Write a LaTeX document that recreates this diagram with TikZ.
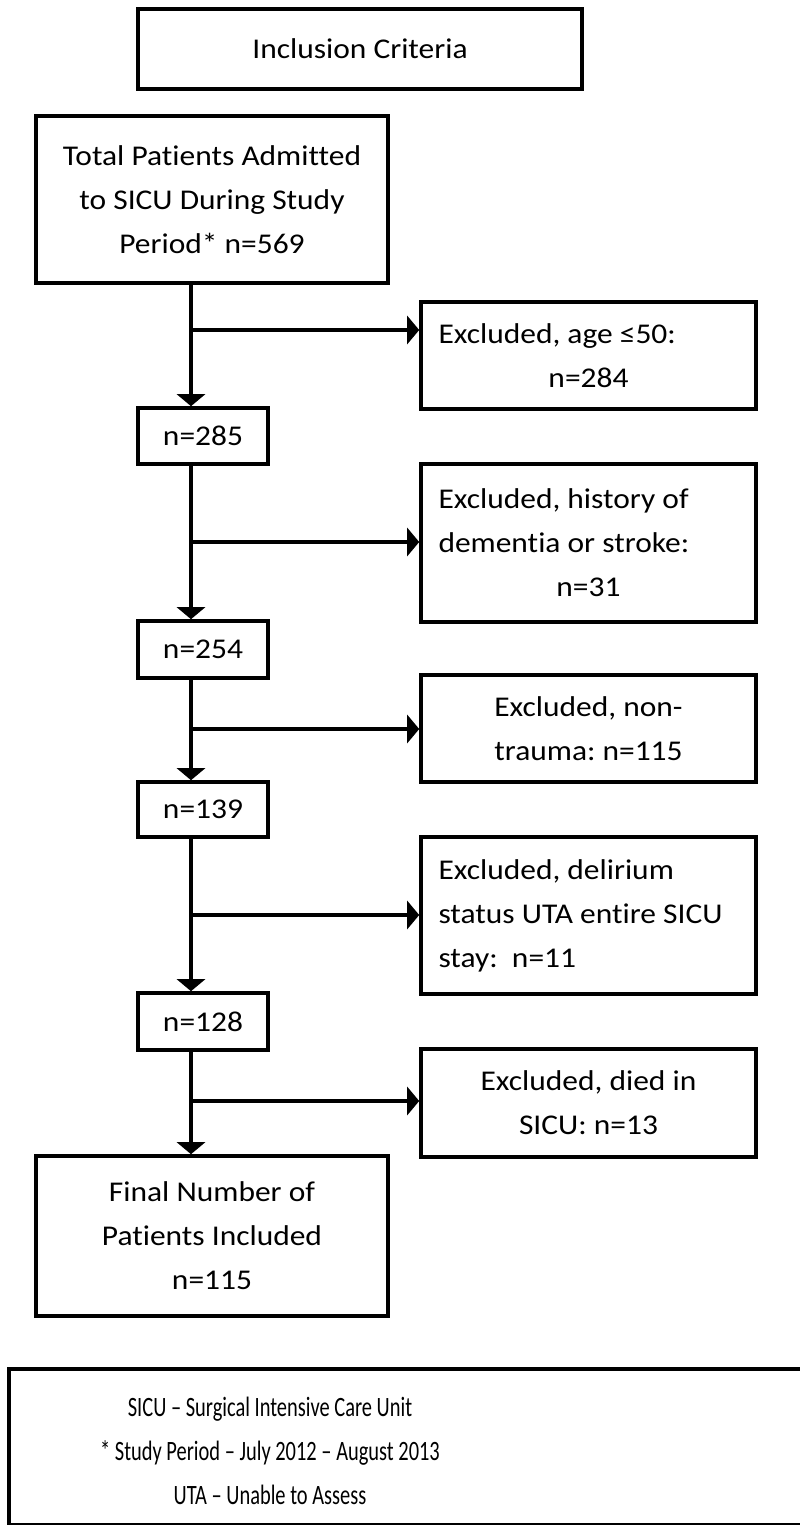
\documentclass[tikz,border=0pt]{standalone}
\usepackage{fontspec}
\setmainfont{Carlito}[Ligatures=CommonOff, FakeStretch=1.1]
\newfontfamily\legendfont{Carlito}[Ligatures=CommonOff, FakeStretch=0.73]
\usetikzlibrary{arrows.meta}
\frenchspacing
\tikzset{
  box/.style={draw, line width=1.8pt, inner sep=0pt, align=center,
    font=\fontsize{14.3}{22}\selectfont},
  lbox/.style={box, align=flush left, text width=150pt, inner xsep=8.75pt},
  flow/.style={line width=2pt, ->}
}
\begin{document}
\begin{tikzpicture}[x=0.5pt, y=-0.5pt, >={Triangle[width=14pt,length=6pt]}]
  \useasboundingbox (0,0) rectangle (799,1525);
  % main column
  \node[box, minimum width=222pt, minimum height=40pt] (incl) at (360,49) {Inclusion Criteria};
  \node[box, minimum width=176pt, minimum height=83.5pt] (total) at (212,199.5) {Total Patients Admitted\\to SICU During Study\\Period* n=569};
  \node[box, minimum width=65pt, minimum height=28pt] (n285) at (203,436) {n=285};
  \node[box, minimum width=65pt, minimum height=28.5pt] (n254) at (203,649.5) {n=254};
  \node[box, minimum width=65pt, minimum height=27.5pt] (n139) at (203,809.5) {n=139};
  \node[box, minimum width=65pt, minimum height=28.5pt] (n128) at (203,1021.5) {n=128};
  \node[box, minimum width=176pt, minimum height=80pt] (final) at (212,1236) {Final Number of\\Patients Included\\n=115};
  % exclusions
  \node[lbox, minimum height=53.5pt] (ex1) at (588.5,355.5) {Excluded, age ≤50:\\\hfill n=284\hfill\null};
  \node[lbox, minimum height=79pt] (ex2) at (588.5,543) {Excluded, history of\\dementia or stroke:\\\hfill n=31\hfill\null};
  \node[box, minimum width=167.5pt, minimum height=53.5pt] (ex3) at (588.5,728.5) {Excluded, non-\\trauma: n=115};
  \node[lbox, minimum height=78.5pt] (ex4) at (588.5,915.5) {Excluded, delirium\\status UTA entire SICU\\stay:\ \ n=11};
  \node[box, minimum width=167.5pt, minimum height=54pt] (ex5) at (588.5,1103) {Excluded, died in\\SICU: n=13};
  % branch points on the trunk
  \coordinate (b1) at (191,330);
  \coordinate (b2) at (191,542);
  \coordinate (b3) at (191,729);
  \coordinate (b4) at (191,915);
  \coordinate (b5) at (191,1101);
  \draw[flow] (total.south -| b1) -- (n285.north -| b1);
  \draw[flow] (n285.south -| b2) -- (n254.north -| b2);
  \draw[flow] (n254.south -| b3) -- (n139.north -| b3);
  \draw[flow] (n139.south -| b4) -- (n128.north -| b4);
  \draw[flow] (n128.south -| b5) -- (final.north -| b5);
  \draw[flow] (b1) -- (b1 -| ex1.west);
  \draw[flow] (b2) -- (b2 -| ex2.west);
  \draw[flow] (b3) -- (b3 -| ex3.west);
  \draw[flow] (b4) -- (b4 -| ex4.west);
  \draw[flow] (b5) -- (b5 -| ex5.west);
  % legend
  \node[draw, line width=1.8pt, minimum width=412pt, minimum height=78pt, anchor=north west] (legend) at (7,1367) {};
  \node[align=center, inner sep=0pt, font=\legendfont\fontsize{14}{22}\selectfont] (legendtext) at (270,1451) {SICU – Surgical Intensive Care Unit\\* Study Period – July 2012 – August 2013\\UTA – Unable to Assess};
\end{tikzpicture}
\end{document}
